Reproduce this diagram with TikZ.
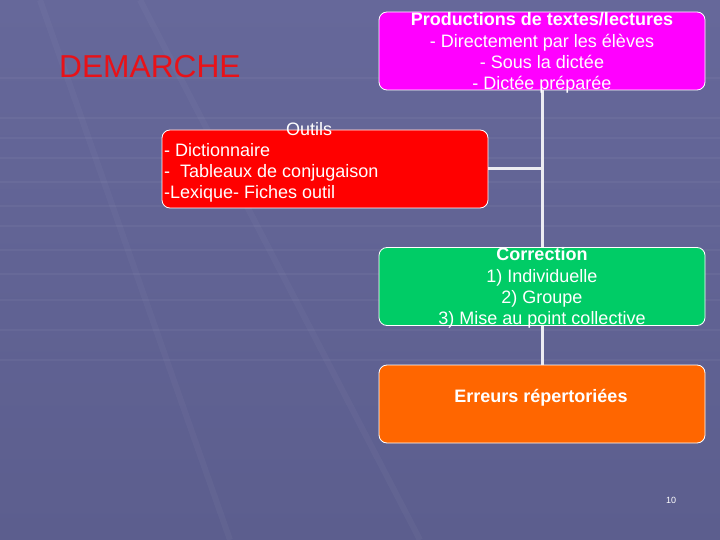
\documentclass[tikz,border=0pt]{standalone}
\usepackage{fontspec}
\setmainfont{Liberation Sans}
\definecolor{bgtop}{RGB}{102,104,154}
\definecolor{bgbot}{RGB}{92,94,142}
\definecolor{magbox}{RGB}{255,0,255}
\definecolor{redbox}{RGB}{255,0,0}
\definecolor{greenbox}{RGB}{0,204,102}
\definecolor{orangebox}{RGB}{255,102,0}
\definecolor{linkgray}{RGB}{236,236,242}
\definecolor{titlered}{RGB}{232,18,24}
\begin{document}
\begin{tikzpicture}[x=1pt,y=-1pt,
  box/.style={draw=white, line width=0.8pt, rounded corners=8pt, minimum width=326pt, minimum height=78pt, inner sep=0pt},
  txt/.style={text=white, font=\fontsize{18}{21.2}\selectfont, align=center, inner sep=0pt},
  link/.style={draw=linkgray, line width=3pt}]
\shade[top color=bgtop, bottom color=bgbot] (0,0) rectangle (720,540);
\useasboundingbox (0,0) rectangle (720,540);
% faint background stripes
\foreach \yy in {78,118,138,158,182,206,226,250,274,300,330,360}{
  \draw[white, opacity=0.04, line width=2pt] (0,\yy) -- (720,\yy);
}
\draw[white, opacity=0.03, line width=6pt] (40,0) -- (230,540);
\draw[white, opacity=0.03, line width=6pt] (140,0) -- (420,540);
% boxes
\node[box, fill=magbox] (prod) at (542,51) {};
\node[box, fill=redbox] (outils) at (325,169) {};
\node[box, fill=greenbox] (corr) at (542,286.5) {};
\node[box, fill=orangebox] (err) at (542,404) {};
% connectors
\draw[link] (prod.south) -- (corr.north);
\draw[link] (corr.south) -- (err.north);
\draw[link] (outils.east) -- (outils.east -| prod.south);
% texts
\node[txt] (prodt) at (542,53) {\textbf{Productions de textes/lectures}\\- Directement par les élèves\\- Sous la dictée\\- Dictée préparée};
\node[txt, align=left, anchor=west] (outilst) at (164,162.5) {\makebox[290pt]{Outils}\\- Dictionnaire\\-\ \ Tableaux de conjugaison\\-Lexique- Fiches outil};
\node[txt] (corrt) at (542,288) {\textbf{Correction}\\1) Individuelle\\2) Groupe\\3) Mise au point collective};
\node[txt] (errt) at (541,398) {\textbf{Erreurs répertoriées}};
\node[text=titlered, font=\fontsize{31.7}{31.7}\selectfont, anchor=west, inner sep=0pt] (dem) at (59,67) {DEMARCHE};
\node[text=white, font=\fontsize{9}{9}\selectfont, inner sep=0pt] (pg) at (671,500) {10};
\end{tikzpicture}
\end{document}
